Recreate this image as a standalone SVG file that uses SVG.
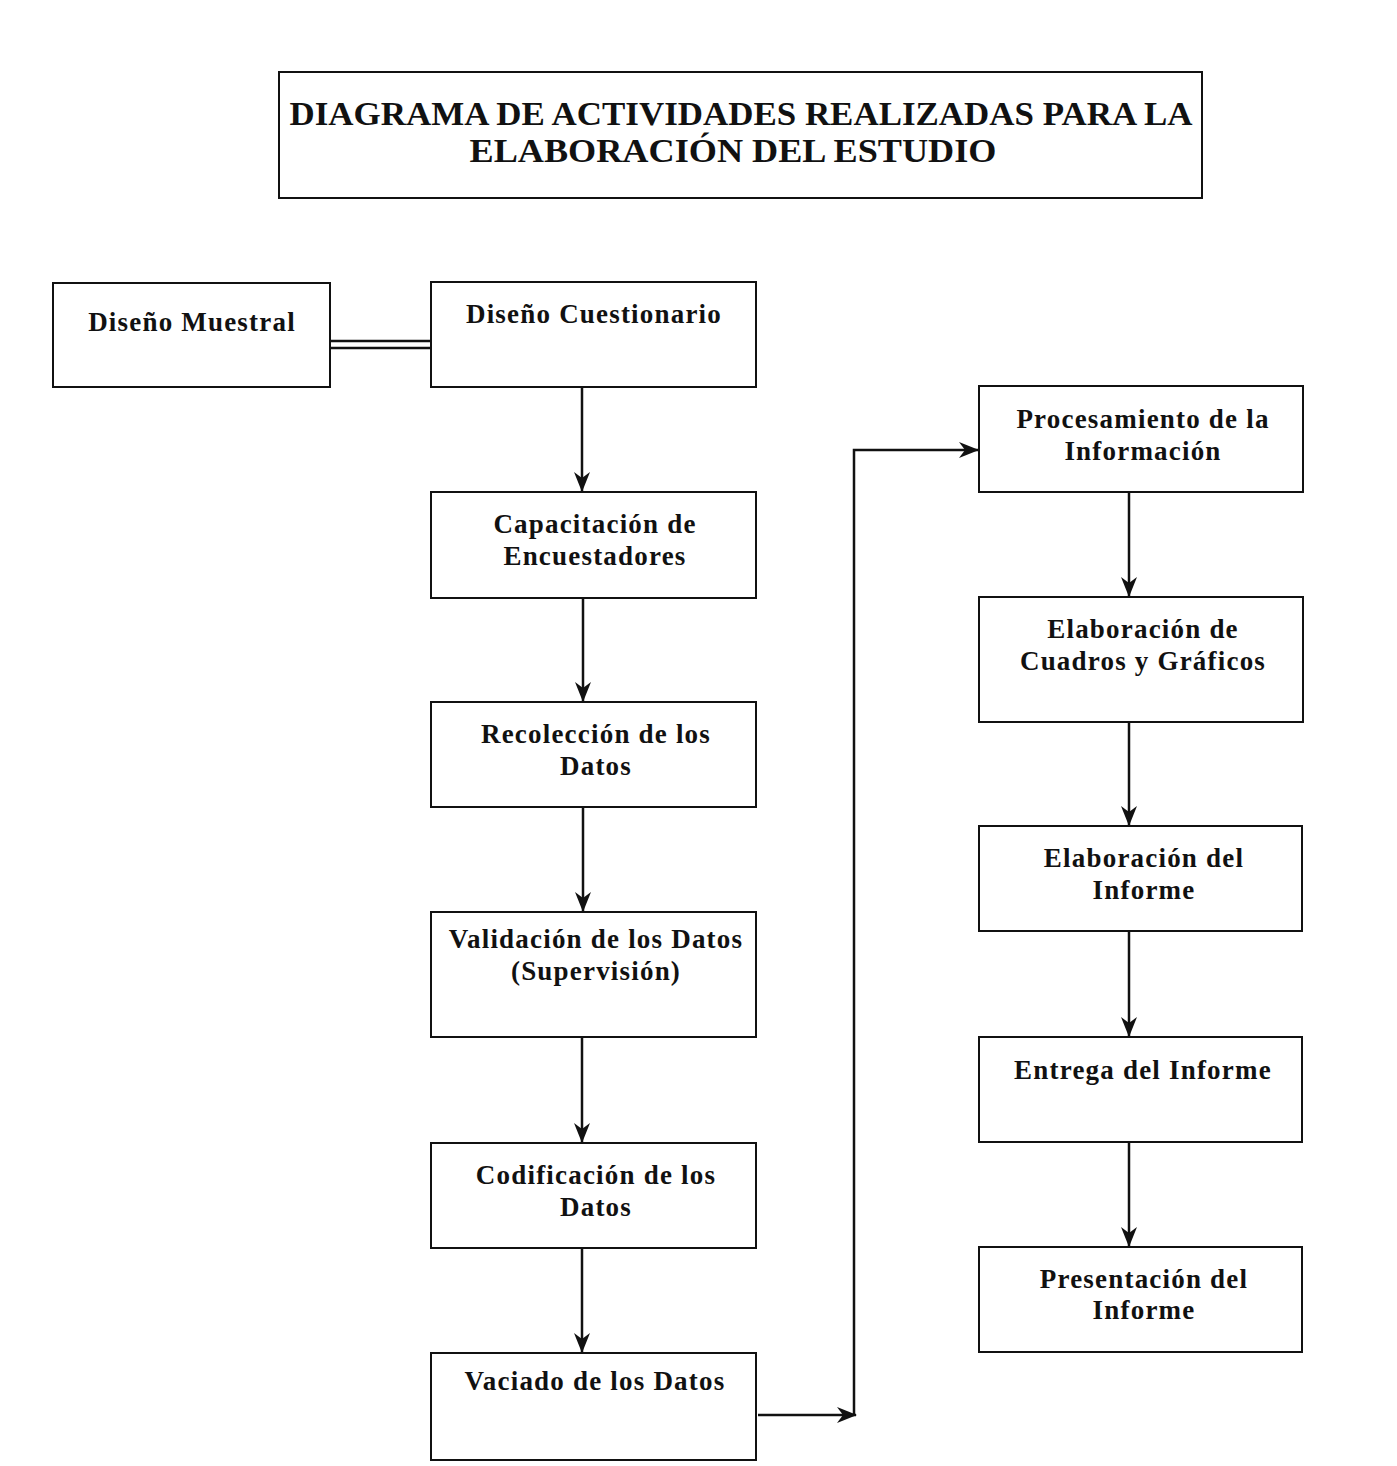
<svg xmlns="http://www.w3.org/2000/svg" width="1397" height="1466" viewBox="0 0 1397 1466">
  <style>
    .box { fill: #fff; stroke: #111; stroke-width: 2; }
    .lbl { font-family: "Liberation Serif", "Times New Roman", serif; font-weight: bold; font-size: 27px; fill: #111; text-anchor: middle; letter-spacing: 1.2px; }
    .ttl { font-family: "Liberation Serif", "Times New Roman", serif; font-weight: bold; font-size: 34px; fill: #111; text-anchor: middle; }
    .wire { fill: none; stroke: #111; stroke-width: 2.5; }
  </style>
  <defs>
    <marker id="arr" viewBox="0 0 20 16" refX="19" refY="8" markerWidth="20" markerHeight="16" markerUnits="userSpaceOnUse" orient="auto">
      <path d="M0,0 L20,8 L0,16 L6,8 Z" fill="#111"/>
    </marker>
  </defs>
  <rect width="1397" height="1466" fill="#fff"/>

  <g id="title">
    <rect class="box" x="279" y="72" width="923" height="126"/>
    <text class="ttl" x="741" y="125" textLength="903" lengthAdjust="spacingAndGlyphs">DIAGRAMA DE ACTIVIDADES REALIZADAS PARA LA</text>
    <text class="ttl" x="733" y="162" textLength="527" lengthAdjust="spacingAndGlyphs">ELABORACIÓN DEL ESTUDIO</text>
  </g>

  <g id="connectors">
    <line class="wire" x1="330" y1="341" x2="431" y2="341" stroke-width="2"/>
    <line class="wire" x1="330" y1="348" x2="431" y2="348" stroke-width="2"/>
    <line class="wire" x1="582" y1="387" x2="582" y2="491" marker-end="url(#arr)"/>
    <line class="wire" x1="583" y1="598" x2="583" y2="701" marker-end="url(#arr)"/>
    <line class="wire" x1="583" y1="807" x2="583" y2="911" marker-end="url(#arr)"/>
    <line class="wire" x1="582" y1="1037" x2="582" y2="1142" marker-end="url(#arr)"/>
    <line class="wire" x1="582" y1="1248" x2="582" y2="1352" marker-end="url(#arr)"/>
    <line class="wire" x1="758" y1="1415" x2="856" y2="1415" marker-end="url(#arr)"/>
    <polyline class="wire" points="854,1415 854,450 978,450" marker-end="url(#arr)"/>
    <line class="wire" x1="1129" y1="492" x2="1129" y2="596" marker-end="url(#arr)"/>
    <line class="wire" x1="1129" y1="722" x2="1129" y2="825" marker-end="url(#arr)"/>
    <line class="wire" x1="1129" y1="931" x2="1129" y2="1036" marker-end="url(#arr)"/>
    <line class="wire" x1="1129" y1="1142" x2="1129" y2="1246" marker-end="url(#arr)"/>
  </g>

  <g id="diseno-muestral">
    <rect class="box" x="53" y="283" width="277" height="104"/>
    <text class="lbl" x="192" y="331">Diseño Muestral</text>
  </g>
  <g id="diseno-cuestionario">
    <rect class="box" x="431" y="282" width="325" height="105"/>
    <text class="lbl" x="594" y="323">Diseño Cuestionario</text>
  </g>
  <g id="capacitacion">
    <rect class="box" x="431" y="492" width="325" height="106"/>
    <text class="lbl" x="595" y="533">Capacitación de</text>
    <text class="lbl" x="595" y="565">Encuestadores</text>
  </g>
  <g id="recoleccion">
    <rect class="box" x="431" y="702" width="325" height="105"/>
    <text class="lbl" x="596" y="743">Recolección de los</text>
    <text class="lbl" x="596" y="775">Datos</text>
  </g>
  <g id="validacion">
    <rect class="box" x="431" y="912" width="325" height="125"/>
    <text class="lbl" x="596" y="948">Validación de los Datos</text>
    <text class="lbl" x="596" y="980">(Supervisión)</text>
  </g>
  <g id="codificacion">
    <rect class="box" x="431" y="1143" width="325" height="105"/>
    <text class="lbl" x="596" y="1184">Codificación de los</text>
    <text class="lbl" x="596" y="1216">Datos</text>
  </g>
  <g id="vaciado">
    <rect class="box" x="431" y="1353" width="325" height="107"/>
    <text class="lbl" x="595" y="1390">Vaciado de los Datos</text>
  </g>
  <g id="procesamiento">
    <rect class="box" x="979" y="386" width="324" height="106"/>
    <text class="lbl" x="1143" y="428">Procesamiento de la</text>
    <text class="lbl" x="1143" y="460">Información</text>
  </g>
  <g id="cuadros-graficos">
    <rect class="box" x="979" y="597" width="324" height="125"/>
    <text class="lbl" x="1143" y="638">Elaboración de</text>
    <text class="lbl" x="1143" y="670">Cuadros y Gráficos</text>
  </g>
  <g id="elaboracion-informe">
    <rect class="box" x="979" y="826" width="323" height="105"/>
    <text class="lbl" x="1144" y="867">Elaboración del</text>
    <text class="lbl" x="1144" y="899">Informe</text>
  </g>
  <g id="entrega">
    <rect class="box" x="979" y="1037" width="323" height="105"/>
    <text class="lbl" x="1143" y="1079">Entrega del Informe</text>
  </g>
  <g id="presentacion">
    <rect class="box" x="979" y="1247" width="323" height="105"/>
    <text class="lbl" x="1144" y="1288">Presentación del</text>
    <text class="lbl" x="1144" y="1319">Informe</text>
  </g>
</svg>
